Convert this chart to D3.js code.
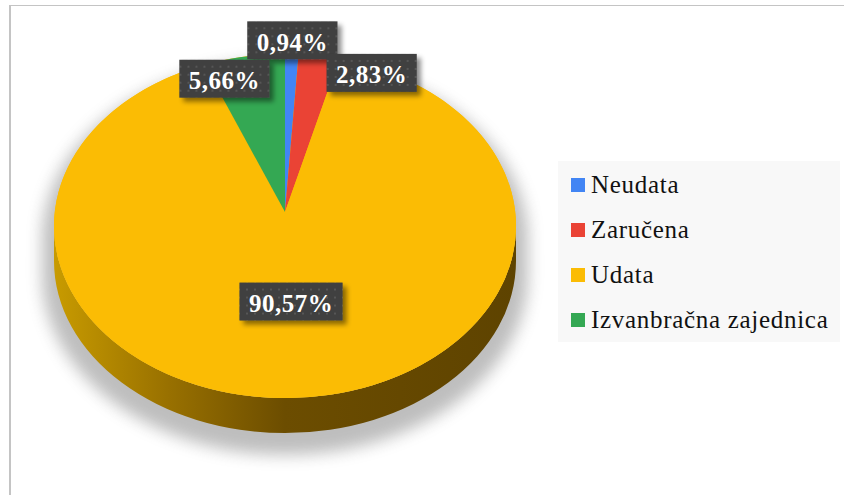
<!DOCTYPE html>
<html>
<head>
<meta charset="utf-8">
<script src="https://cdn.jsdelivr.net/npm/d3@7"></script>
<style>
  html, body { margin: 0; padding: 0; background: #fff; }
  svg { display: block; }
</style>
</head>
<body>
<svg id="chart"></svg>
<script>
// chart data
const categories = ["Neudata", "Zaručena", "Udata", "Izvanbračna zajednica"];
const values = [0.94, 2.83, 90.57, 5.66];
const labels = ["0,94%", "2,83%", "90,57%", "5,66%"];
const colors = ["#4285F4", "#EA4335", "#FBBC04", "#34A853"];

// label placement (radius factor on the ellipse + sideways nudge)
const labelRadius = [1.08, 0.9, 0.44, 0.87];
const labelShift = [0, 56, 0, -25];

const FONT = "'Liberation Serif', 'Times New Roman', serif";
const W = 844, H = 495;
const cx = 285, cy = 226, rx = 231, ry = 172, depth = 35;
const apex = { x: 285, y: 212 };

const svg = d3.select("#chart").attr("width", W).attr("height", H);
const defs = svg.append("defs");

// side gradient
const grad = defs.append("linearGradient").attr("id", "sideGrad")
  .attr("x1", "0").attr("x2", "1").attr("y1", "0").attr("y2", "0");
[[0, "#c89b00"], [0.25, "#987000"], [0.5, "#6c4d00"], [1, "#5e4300"]]
  .forEach(([o, c]) => grad.append("stop").attr("offset", o).attr("stop-color", c));

defs.append("filter").attr("id", "blurShadow")
  .attr("x", "-20%").attr("y", "-20%").attr("width", "140%").attr("height", "140%")
  .append("feGaussianBlur").attr("stdDeviation", 8);

const lblShadow = defs.append("filter").attr("id", "lblShadow")
  .attr("x", "-20%").attr("y", "-30%").attr("width", "150%").attr("height", "170%");
lblShadow.append("feDropShadow").attr("dx", 4).attr("dy", 4)
  .attr("stdDeviation", 2.5).attr("flood-color", "#000").attr("flood-opacity", 0.45);

const pat = defs.append("pattern").attr("id", "dots")
  .attr("width", 8).attr("height", 8).attr("patternUnits", "userSpaceOnUse");
pat.append("rect").attr("width", 8).attr("height", 8).attr("fill", "#3f3f3f");
pat.append("rect").attr("x", 3).attr("y", 3).attr("width", 2).attr("height", 2).attr("fill", "#575757");

// frame
svg.append("line").attr("x1", 10).attr("x2", 10).attr("y1", 5).attr("y2", H)
  .attr("stroke", "#c4c4c4").attr("stroke-width", 2);
svg.append("line").attr("x1", 9).attr("x2", W).attr("y1", 5.5).attr("y2", 5.5)
  .attr("stroke", "#c4c4c4").attr("stroke-width", 1);

// ellipse point helper: angle measured clockwise from 12 o'clock
const pt = (a, f = 1) => [cx + rx * f * Math.sin(a), cy - ry * f * Math.cos(a)];

function sidePath(rxx, ryy, x0, y0, d) {
  return `M${x0 - rxx},${y0} A${rxx},${ryy} 0 0 0 ${x0 + rxx},${y0}` +
    ` L${x0 + rxx},${y0 + d} A${rxx},${ryy} 0 0 1 ${x0 - rxx},${y0 + d} Z`;
}

// soft shadow under the pie
const sh = svg.append("g").attr("filter", "url(#blurShadow)").attr("opacity", 0.38);
sh.append("ellipse").attr("cx", cx).attr("cy", cy + 14).attr("rx", rx + 12).attr("ry", ry + 8).attr("fill", "#555");
sh.append("path").attr("d", sidePath(rx + 12, ry + 8, cx, cy + 14, depth)).attr("fill", "#555");

// side wall
svg.append("path").attr("d", sidePath(rx, ry, cx, cy, depth)).attr("fill", "url(#sideGrad)");

// top face slices
const pie = d3.pie().sort(null).value(d => d);
const arcs = pie(values);
const line = d3.line();

function slicePts(d) {
  const n = Math.max(4, Math.ceil((d.endAngle - d.startAngle) / 0.02));
  const pts = [[apex.x, apex.y]];
  d3.range(n + 1).forEach(i => pts.push(pt(d.startAngle + (d.endAngle - d.startAngle) * i / n)));
  return pts;
}

// full face in the big slice colour so the outline stays smooth
svg.append("ellipse").attr("cx", cx).attr("cy", cy).attr("rx", rx).attr("ry", ry).attr("fill", colors[2]);

svg.append("g").selectAll("path")
  .data(arcs)
  .join("path")
  .attr("d", d => line(slicePts(d)) + "Z")
  .attr("fill", (d, i) => colors[i]);

// labels
const lg = svg.append("g");
arcs.forEach((d, i) => {
  const mid = (d.startAngle + d.endAngle) / 2;
  const p = pt(mid, labelRadius[i]);
  const x = p[0] + labelShift[i], y = p[1];
  const g = lg.append("g").attr("transform", `translate(${x},${y})`);
  const t = g.append("text")
    .attr("text-anchor", "middle").attr("dy", "0.42em")
    .attr("font-family", FONT).attr("letter-spacing", 0.5)
    .attr("font-weight", "bold").attr("font-size", 25).attr("fill", "#fff")
    .text(labels[i]);
  const bw = t.node().getComputedTextLength() + 19, bh = 38;
  g.insert("rect", "text")
    .attr("x", -bw / 2).attr("y", -bh / 2).attr("width", bw).attr("height", bh)
    .attr("fill", "url(#dots)").attr("filter", "url(#lblShadow)");
});

// legend
const legend = svg.append("g").attr("transform", "translate(558,161)");
legend.append("rect").attr("width", 282).attr("height", 181).attr("fill", "#f8f8f8");
const item = legend.selectAll("g.item")
  .data(categories)
  .join("g").attr("class", "item")
  .attr("transform", (d, i) => `translate(13,${24 + i * 45})`);
item.append("rect").attr("x", 0).attr("y", -7).attr("width", 14).attr("height", 14)
  .attr("fill", (d, i) => colors[i]);
item.append("text").attr("x", 20).attr("dy", "0.3em")
  .attr("font-family", FONT).attr("letter-spacing", 0.7)
  .attr("font-size", 25).attr("fill", "#111")
  .text(d => d);
</script>
</body>
</html>
